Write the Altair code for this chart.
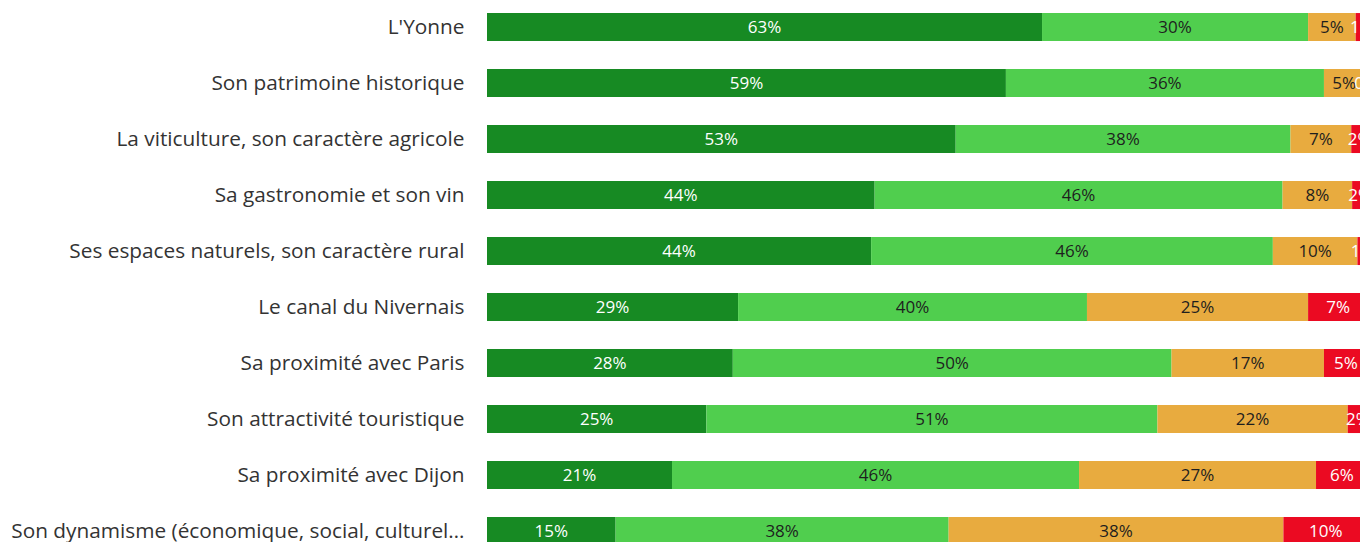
import altair as alt
import pandas as pd

categories = [
    "L'Yonne",
    "Son patrimoine historique",
    "La viticulture, son caractère agricole",
    "Sa gastronomie et son vin",
    "Ses espaces naturels, son caractère rural",
    "Le canal du Nivernais",
    "Sa proximité avec Paris",
    "Son attractivité touristique",
    "Sa proximité avec Dijon",
    "Son dynamisme (économique, social, culturel…",
]
series = ["Tout à fait", "Plutôt", "Plutôt pas", "Pas du tout"]
s1 = [63.0, 58.9, 53.2, 44.0, 43.6, 28.5, 27.9, 24.9, 21.0, 14.6]
s2 = [30.2, 36.1, 38.0, 46.3, 45.6, 39.6, 49.8, 51.2, 46.2, 37.8]
s3 = [5.4, 4.6, 6.9, 7.9, 9.6, 25.1, 17.3, 21.6, 26.9, 38.0]
s4 = [1.4, 0.4, 1.9, 1.8, 1.2, 6.8, 5.0, 2.3, 5.9, 9.6]
colors = ["#178A23", "#50CE4E", "#E8AB3F", "#EB0A22"]
text_colors = ["#FFFFFF", "#1E1E1E", "#1E1E1E", "#FFFFFF"]

rows = []
for si, (name, vals) in enumerate(zip(series, [s1, s2, s3, s4])):
    for ci, cat in enumerate(categories):
        rows.append({"cat": cat, "serie": name, "order": si, "value": vals[ci],
                     "tcolor": text_colors[si]})
df = pd.DataFrame(rows)

base = alt.Chart(df).transform_stack(
    stack="value", as_=["x0", "x1"], groupby=["cat"],
    sort=[alt.SortField("order", order="ascending")]
).transform_calculate(
    mid="(datum.x0 + datum.x1) / 2",
    label="format(datum.value, '.0f') + '%'"
)

# 100 % spans 881 px; the visible plot stops 8 px earlier (page edge)
plot_w = 873
x_scale = alt.Scale(domain=[0, 100 * plot_w / 881], nice=False, zero=True)

y_enc = alt.Y("cat:N", sort=categories, title=None,
              scale=alt.Scale(paddingInner=0.5, paddingOuter=0.09, range=[0, 542.08]),
              axis=alt.Axis(labelFont="Open Sans", labelFontSize=20.8,
                            labelColor="#333333", labelPadding=23, labelOffset=1,
                            domain=False, ticks=False, labelLimit=700))

bars = base.mark_bar(clip=True).encode(
    y=y_enc,
    x=alt.X("x0:Q", scale=x_scale, axis=None),
    x2="x1:Q",
    color=alt.Color("serie:N", scale=alt.Scale(domain=series, range=colors), legend=None),
)

labels = base.mark_text(font="Open Sans", fontSize=17, baseline="middle",
                        align="center", dy=1, clip=True).encode(
    y=alt.Y("cat:N", sort=categories),
    x=alt.X("mid:Q", scale=x_scale, axis=None),
    text="label:N",
    color=alt.Color("tcolor:N", scale=None),
)

chart = alt.layer(bars, labels).properties(
    width=plot_w,
    height=534,
    autosize=alt.AutoSizeParams(type="none"),
    padding={"left": 479, "top": 0, "right": 0, "bottom": 0},
).configure_view(stroke=None)

chart.save("out.html", embed_options={"renderer": "svg", "actions": False})
